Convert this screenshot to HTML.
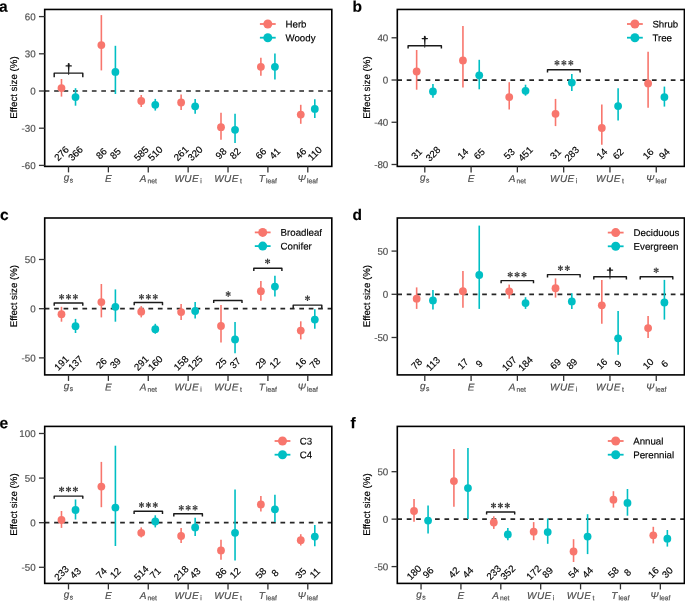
<!DOCTYPE html>
<html><head><meta charset="utf-8"><style>
html,body{margin:0;padding:0;background:#fff;overflow:hidden;}
svg{display:block;font-family:"Liberation Sans", sans-serif;will-change:transform;text-rendering:geometricPrecision;}
text{stroke-width:0.16px;}
</style></head><body>
<svg width="685" height="601" viewBox="0 0 685 601">
<rect width="685" height="601" fill="#fff"/>
<line x1="44.70" y1="91.0" x2="331.80" y2="91.0" stroke="#262626" stroke-width="1.7" stroke-dasharray="4.7 4.73"/>
<line x1="61.48" y1="79" x2="61.48" y2="96.6" stroke="#F8766D" stroke-width="1.6"/>
<circle cx="61.48" cy="88.1" r="3.9" fill="#F8766D"/>
<line x1="75.52" y1="88.2" x2="75.52" y2="105.7" stroke="#00BFC4" stroke-width="1.6"/>
<circle cx="75.52" cy="97.1" r="3.9" fill="#00BFC4"/>
<line x1="101.36" y1="15.1" x2="101.36" y2="70.4" stroke="#F8766D" stroke-width="1.6"/>
<circle cx="101.36" cy="45.1" r="3.9" fill="#F8766D"/>
<line x1="115.40" y1="45.8" x2="115.40" y2="94" stroke="#00BFC4" stroke-width="1.6"/>
<circle cx="115.40" cy="71.9" r="3.9" fill="#00BFC4"/>
<line x1="141.24" y1="95" x2="141.24" y2="107" stroke="#F8766D" stroke-width="1.6"/>
<circle cx="141.24" cy="101" r="3.9" fill="#F8766D"/>
<line x1="155.28" y1="98.9" x2="155.28" y2="110.6" stroke="#00BFC4" stroke-width="1.6"/>
<circle cx="155.28" cy="104.8" r="3.9" fill="#00BFC4"/>
<line x1="181.12" y1="94.6" x2="181.12" y2="110.1" stroke="#F8766D" stroke-width="1.6"/>
<circle cx="181.12" cy="102.5" r="3.9" fill="#F8766D"/>
<line x1="195.16" y1="98.9" x2="195.16" y2="113.8" stroke="#00BFC4" stroke-width="1.6"/>
<circle cx="195.16" cy="106.3" r="3.9" fill="#00BFC4"/>
<line x1="221.00" y1="112.7" x2="221.00" y2="139.8" stroke="#F8766D" stroke-width="1.6"/>
<circle cx="221.00" cy="127.2" r="3.9" fill="#F8766D"/>
<line x1="235.04" y1="113.8" x2="235.04" y2="143" stroke="#00BFC4" stroke-width="1.6"/>
<circle cx="235.04" cy="129.8" r="3.9" fill="#00BFC4"/>
<line x1="260.88" y1="57.7" x2="260.88" y2="75.8" stroke="#F8766D" stroke-width="1.6"/>
<circle cx="260.88" cy="66.8" r="3.9" fill="#F8766D"/>
<line x1="274.92" y1="53.4" x2="274.92" y2="79.4" stroke="#00BFC4" stroke-width="1.6"/>
<circle cx="274.92" cy="66.8" r="3.9" fill="#00BFC4"/>
<line x1="300.76" y1="104.8" x2="300.76" y2="123.8" stroke="#F8766D" stroke-width="1.6"/>
<circle cx="300.76" cy="114.6" r="3.9" fill="#F8766D"/>
<line x1="314.80" y1="99.3" x2="314.80" y2="118" stroke="#00BFC4" stroke-width="1.6"/>
<circle cx="314.80" cy="108.9" r="3.9" fill="#00BFC4"/>
<text transform="translate(61.48,153.45) rotate(-45)" x="0" y="3.39" text-anchor="middle" font-size="9.7" fill="#000" stroke="#000">276</text>
<text transform="translate(75.52,153.45) rotate(-45)" x="0" y="3.39" text-anchor="middle" font-size="9.7" fill="#000" stroke="#000">366</text>
<text transform="translate(101.36,153.45) rotate(-45)" x="0" y="3.39" text-anchor="middle" font-size="9.7" fill="#000" stroke="#000">86</text>
<text transform="translate(115.40,153.45) rotate(-45)" x="0" y="3.39" text-anchor="middle" font-size="9.7" fill="#000" stroke="#000">85</text>
<text transform="translate(141.24,153.45) rotate(-45)" x="0" y="3.39" text-anchor="middle" font-size="9.7" fill="#000" stroke="#000">585</text>
<text transform="translate(155.28,153.45) rotate(-45)" x="0" y="3.39" text-anchor="middle" font-size="9.7" fill="#000" stroke="#000">510</text>
<text transform="translate(181.12,153.45) rotate(-45)" x="0" y="3.39" text-anchor="middle" font-size="9.7" fill="#000" stroke="#000">261</text>
<text transform="translate(195.16,153.45) rotate(-45)" x="0" y="3.39" text-anchor="middle" font-size="9.7" fill="#000" stroke="#000">320</text>
<text transform="translate(221.00,153.45) rotate(-45)" x="0" y="3.39" text-anchor="middle" font-size="9.7" fill="#000" stroke="#000">98</text>
<text transform="translate(235.04,153.45) rotate(-45)" x="0" y="3.39" text-anchor="middle" font-size="9.7" fill="#000" stroke="#000">82</text>
<text transform="translate(260.88,153.45) rotate(-45)" x="0" y="3.39" text-anchor="middle" font-size="9.7" fill="#000" stroke="#000">66</text>
<text transform="translate(274.92,153.45) rotate(-45)" x="0" y="3.39" text-anchor="middle" font-size="9.7" fill="#000" stroke="#000">41</text>
<text transform="translate(300.76,153.45) rotate(-45)" x="0" y="3.39" text-anchor="middle" font-size="9.7" fill="#000" stroke="#000">46</text>
<text transform="translate(314.80,153.45) rotate(-45)" x="0" y="3.39" text-anchor="middle" font-size="9.7" fill="#000" stroke="#000">110</text>
<path d="M54.2 77.3L54.2 73.1L82.8 73.1L82.8 77.3" stroke="#1a1a1a" stroke-width="1.45" fill="none" stroke-linejoin="round"/>
<ellipse cx="68.70" cy="64.10" rx="0.95" ry="1.0" fill="#1a1a1a"/><path d="M67.75 64.20L69.65 64.20L69.05 75.00L68.35 75.00Z" fill="#1a1a1a"/><line x1="66.10" y1="65.90" x2="71.30" y2="65.90" stroke="#1a1a1a" stroke-width="1.25" stroke-linecap="round"/>
<line x1="259.90" y1="24.0" x2="275.70" y2="24.0" stroke="#F8766D" stroke-width="1.8"/>
<circle cx="267.8" cy="24.0" r="4.5" fill="#F8766D"/>
<text transform="rotate(0.05 285.50 27.45)" x="285.50" y="27.45" font-size="9.7" fill="#000" stroke="#000">Herb</text>
<line x1="259.90" y1="37.7" x2="275.70" y2="37.7" stroke="#00BFC4" stroke-width="1.8"/>
<circle cx="267.8" cy="37.7" r="4.5" fill="#00BFC4"/>
<text transform="rotate(0.05 285.50 41.15)" x="285.50" y="41.15" font-size="9.7" fill="#000" stroke="#000">Woody</text>
<rect x="44.7" y="9.45" width="287.10" height="156.95" fill="none" stroke="#000" stroke-width="1.6"/>
<line x1="38.95" y1="16.59" x2="44.70" y2="16.59" stroke="#333" stroke-width="1.3"/>
<text transform="rotate(0.05 35.70 20.17)" x="35.70" y="20.17" text-anchor="end" font-size="9.8" fill="#4D4D4D" stroke="#4D4D4D">60</text>
<line x1="38.95" y1="53.8" x2="44.70" y2="53.8" stroke="#333" stroke-width="1.3"/>
<text transform="rotate(0.05 35.70 57.38)" x="35.70" y="57.38" text-anchor="end" font-size="9.8" fill="#4D4D4D" stroke="#4D4D4D">30</text>
<line x1="38.95" y1="91.0" x2="44.70" y2="91.0" stroke="#333" stroke-width="1.3"/>
<text transform="rotate(0.05 35.70 94.58)" x="35.70" y="94.58" text-anchor="end" font-size="9.8" fill="#4D4D4D" stroke="#4D4D4D">0</text>
<line x1="38.95" y1="128.2" x2="44.70" y2="128.2" stroke="#333" stroke-width="1.3"/>
<text transform="rotate(0.05 35.70 131.78)" x="35.70" y="131.78" text-anchor="end" font-size="9.8" fill="#4D4D4D" stroke="#4D4D4D">-30</text>
<line x1="38.95" y1="165.4" x2="44.70" y2="165.4" stroke="#333" stroke-width="1.3"/>
<text transform="rotate(0.05 35.70 168.98)" x="35.70" y="168.98" text-anchor="end" font-size="9.8" fill="#4D4D4D" stroke="#4D4D4D">-60</text>
<line x1="68.50" y1="166.4" x2="68.50" y2="172.40" stroke="#333" stroke-width="1.3"/>
<text transform="rotate(0.05 68.50 180.70)" x="68.50" y="180.70" text-anchor="middle" fill="#4D4D4D" stroke="#4D4D4D" font-size="10.0"><tspan font-style="italic">g</tspan><tspan font-size="6.8" dy="1.8" dx="0.5">s</tspan></text>
<line x1="108.38" y1="166.4" x2="108.38" y2="172.40" stroke="#333" stroke-width="1.3"/>
<text transform="rotate(0.05 108.38 182.00)" x="108.38" y="182.00" text-anchor="middle" fill="#4D4D4D" stroke="#4D4D4D" font-size="10.0" font-style="italic">E</text>
<line x1="148.26" y1="166.4" x2="148.26" y2="172.40" stroke="#333" stroke-width="1.3"/>
<text transform="rotate(0.05 148.26 182.00)" x="148.26" y="182.00" text-anchor="middle" fill="#4D4D4D" stroke="#4D4D4D" font-size="10.0"><tspan font-style="italic">A</tspan><tspan font-size="6.8" dy="1.3" dx="1.1">net</tspan></text>
<line x1="188.14" y1="166.4" x2="188.14" y2="172.40" stroke="#333" stroke-width="1.3"/>
<text transform="rotate(0.05 188.14 182.00)" x="188.14" y="182.00" text-anchor="middle" fill="#4D4D4D" stroke="#4D4D4D" font-size="10.0"><tspan font-style="italic" letter-spacing="0.45">WUE</tspan><tspan font-size="6.8" dy="1.3" dx="1.1">i</tspan></text>
<line x1="228.02" y1="166.4" x2="228.02" y2="172.40" stroke="#333" stroke-width="1.3"/>
<text transform="rotate(0.05 228.02 182.00)" x="228.02" y="182.00" text-anchor="middle" fill="#4D4D4D" stroke="#4D4D4D" font-size="10.0"><tspan font-style="italic" letter-spacing="0.45">WUE</tspan><tspan font-size="6.8" dy="1.3" dx="1.1">t</tspan></text>
<line x1="267.90" y1="166.4" x2="267.90" y2="172.40" stroke="#333" stroke-width="1.3"/>
<text transform="rotate(0.05 267.90 182.00)" x="267.90" y="182.00" text-anchor="middle" fill="#4D4D4D" stroke="#4D4D4D" font-size="10.0"><tspan font-style="italic">T</tspan><tspan font-size="6.8" dy="1.3" dx="1.1">leaf</tspan></text>
<line x1="307.78" y1="166.4" x2="307.78" y2="172.40" stroke="#333" stroke-width="1.3"/>
<text transform="rotate(0.05 307.78 182.00)" x="307.78" y="182.00" text-anchor="middle" fill="#4D4D4D" stroke="#4D4D4D" font-size="10.0"><tspan font-style="italic">Ψ</tspan><tspan font-size="6.8" dy="1.3" dx="1.1">leaf</tspan></text>
<text transform="translate(17.10,87.52) rotate(-90)" x="0" y="0" text-anchor="middle" font-size="9.7" fill="#000" stroke="#000">Effect size (%)</text>
<text transform="rotate(0.05 -1.0 11.8)" x="-1.0" y="11.8" font-size="15.5" font-weight="bold" fill="#000" stroke="#000">a</text>
<line x1="397.30" y1="80.05" x2="684.40" y2="80.05" stroke="#262626" stroke-width="1.7" stroke-dasharray="4.7 4.73"/>
<line x1="416.65" y1="50" x2="416.65" y2="89.7" stroke="#F8766D" stroke-width="1.6"/>
<circle cx="416.65" cy="71.5" r="3.9" fill="#F8766D"/>
<line x1="432.95" y1="84.1" x2="432.95" y2="97.8" stroke="#00BFC4" stroke-width="1.6"/>
<circle cx="432.95" cy="91.4" r="3.9" fill="#00BFC4"/>
<line x1="462.94" y1="26.1" x2="462.94" y2="87.6" stroke="#F8766D" stroke-width="1.6"/>
<circle cx="462.94" cy="60.4" r="3.9" fill="#F8766D"/>
<line x1="479.24" y1="59.8" x2="479.24" y2="89.3" stroke="#00BFC4" stroke-width="1.6"/>
<circle cx="479.24" cy="75.3" r="3.9" fill="#00BFC4"/>
<line x1="509.23" y1="82.2" x2="509.23" y2="109.5" stroke="#F8766D" stroke-width="1.6"/>
<circle cx="509.23" cy="97.1" r="3.9" fill="#F8766D"/>
<line x1="525.53" y1="84.7" x2="525.53" y2="95.7" stroke="#00BFC4" stroke-width="1.6"/>
<circle cx="525.53" cy="90.8" r="3.9" fill="#00BFC4"/>
<line x1="555.52" y1="98.9" x2="555.52" y2="126.1" stroke="#F8766D" stroke-width="1.6"/>
<circle cx="555.52" cy="113.8" r="3.9" fill="#F8766D"/>
<line x1="571.82" y1="74.1" x2="571.82" y2="91" stroke="#00BFC4" stroke-width="1.6"/>
<circle cx="571.82" cy="82.6" r="3.9" fill="#00BFC4"/>
<line x1="601.81" y1="104.6" x2="601.81" y2="144.7" stroke="#F8766D" stroke-width="1.6"/>
<circle cx="601.81" cy="128" r="3.9" fill="#F8766D"/>
<line x1="618.11" y1="88.3" x2="618.11" y2="120.6" stroke="#00BFC4" stroke-width="1.6"/>
<circle cx="618.11" cy="106.1" r="3.9" fill="#00BFC4"/>
<line x1="648.10" y1="51.8" x2="648.10" y2="107.7" stroke="#F8766D" stroke-width="1.6"/>
<circle cx="648.10" cy="83.4" r="3.9" fill="#F8766D"/>
<line x1="664.40" y1="86.6" x2="664.40" y2="106.6" stroke="#00BFC4" stroke-width="1.6"/>
<circle cx="664.40" cy="97.1" r="3.9" fill="#00BFC4"/>
<text transform="translate(416.65,153.85) rotate(-45)" x="0" y="3.39" text-anchor="middle" font-size="9.7" fill="#000" stroke="#000">31</text>
<text transform="translate(432.95,153.85) rotate(-45)" x="0" y="3.39" text-anchor="middle" font-size="9.7" fill="#000" stroke="#000">328</text>
<text transform="translate(462.94,153.85) rotate(-45)" x="0" y="3.39" text-anchor="middle" font-size="9.7" fill="#000" stroke="#000">14</text>
<text transform="translate(479.24,153.85) rotate(-45)" x="0" y="3.39" text-anchor="middle" font-size="9.7" fill="#000" stroke="#000">65</text>
<text transform="translate(509.23,153.85) rotate(-45)" x="0" y="3.39" text-anchor="middle" font-size="9.7" fill="#000" stroke="#000">53</text>
<text transform="translate(525.53,153.85) rotate(-45)" x="0" y="3.39" text-anchor="middle" font-size="9.7" fill="#000" stroke="#000">451</text>
<text transform="translate(555.52,153.85) rotate(-45)" x="0" y="3.39" text-anchor="middle" font-size="9.7" fill="#000" stroke="#000">31</text>
<text transform="translate(571.82,153.85) rotate(-45)" x="0" y="3.39" text-anchor="middle" font-size="9.7" fill="#000" stroke="#000">283</text>
<text transform="translate(601.81,153.85) rotate(-45)" x="0" y="3.39" text-anchor="middle" font-size="9.7" fill="#000" stroke="#000">14</text>
<text transform="translate(618.11,153.85) rotate(-45)" x="0" y="3.39" text-anchor="middle" font-size="9.7" fill="#000" stroke="#000">62</text>
<text transform="translate(648.10,153.85) rotate(-45)" x="0" y="3.39" text-anchor="middle" font-size="9.7" fill="#000" stroke="#000">16</text>
<text transform="translate(664.40,153.85) rotate(-45)" x="0" y="3.39" text-anchor="middle" font-size="9.7" fill="#000" stroke="#000">94</text>
<path d="M408.1 48.5L408.1 45.7L441.4 45.7L441.4 48.5" stroke="#1a1a1a" stroke-width="1.45" fill="none" stroke-linejoin="round"/>
<ellipse cx="424.80" cy="36.80" rx="0.95" ry="1.0" fill="#1a1a1a"/><path d="M423.85 36.90L425.75 36.90L425.15 47.70L424.45 47.70Z" fill="#1a1a1a"/><line x1="422.20" y1="38.60" x2="427.40" y2="38.60" stroke="#1a1a1a" stroke-width="1.25" stroke-linecap="round"/>
<path d="M547.5 72.4L547.5 69.8L580.1 69.8L580.1 72.4" stroke="#1a1a1a" stroke-width="1.45" fill="none" stroke-linejoin="round"/>
<path d="M557.20 62.80L557.72 60.62A0.72 0.72 0 0 0 556.28 60.62L556.80 62.80ZM557.10 62.97L559.25 62.33A0.72 0.72 0 0 0 558.53 61.09L556.90 62.63ZM557.10 62.63L555.47 61.09A0.72 0.72 0 0 0 554.75 62.33L556.90 62.97ZM556.90 62.63L554.75 63.27A0.72 0.72 0 0 0 555.47 64.51L557.10 62.97ZM556.80 62.80L556.28 64.98A0.72 0.72 0 0 0 557.72 64.98L557.20 62.80ZM556.90 62.97L558.53 64.51A0.72 0.72 0 0 0 559.25 63.27L557.10 62.63Z" fill="#383838"/><path d="M564.10 62.80L564.62 60.62A0.72 0.72 0 0 0 563.18 60.62L563.70 62.80ZM564.00 62.97L566.15 62.33A0.72 0.72 0 0 0 565.43 61.09L563.80 62.63ZM564.00 62.63L562.37 61.09A0.72 0.72 0 0 0 561.65 62.33L563.80 62.97ZM563.80 62.63L561.65 63.27A0.72 0.72 0 0 0 562.37 64.51L564.00 62.97ZM563.70 62.80L563.18 64.98A0.72 0.72 0 0 0 564.62 64.98L564.10 62.80ZM563.80 62.97L565.43 64.51A0.72 0.72 0 0 0 566.15 63.27L564.00 62.63Z" fill="#383838"/><path d="M571.00 62.80L571.52 60.62A0.72 0.72 0 0 0 570.08 60.62L570.60 62.80ZM570.90 62.97L573.05 62.33A0.72 0.72 0 0 0 572.33 61.09L570.70 62.63ZM570.90 62.63L569.27 61.09A0.72 0.72 0 0 0 568.55 62.33L570.70 62.97ZM570.70 62.63L568.55 63.27A0.72 0.72 0 0 0 569.27 64.51L570.90 62.97ZM570.60 62.80L570.08 64.98A0.72 0.72 0 0 0 571.52 64.98L571.00 62.80ZM570.70 62.97L572.33 64.51A0.72 0.72 0 0 0 573.05 63.27L570.90 62.63Z" fill="#383838"/>
<line x1="627.00" y1="24.0" x2="642.80" y2="24.0" stroke="#F8766D" stroke-width="1.8"/>
<circle cx="634.9" cy="24.0" r="4.5" fill="#F8766D"/>
<text transform="rotate(0.05 652.40 27.45)" x="652.40" y="27.45" font-size="9.7" fill="#000" stroke="#000">Shrub</text>
<line x1="627.00" y1="37.7" x2="642.80" y2="37.7" stroke="#00BFC4" stroke-width="1.8"/>
<circle cx="634.9" cy="37.7" r="4.5" fill="#00BFC4"/>
<text transform="rotate(0.05 652.40 41.15)" x="652.40" y="41.15" font-size="9.7" fill="#000" stroke="#000">Tree</text>
<rect x="397.3" y="9.45" width="287.10" height="156.95" fill="none" stroke="#000" stroke-width="1.6"/>
<line x1="391.55" y1="37.79" x2="397.30" y2="37.79" stroke="#333" stroke-width="1.3"/>
<text transform="rotate(0.05 388.30 41.37)" x="388.30" y="41.37" text-anchor="end" font-size="9.8" fill="#4D4D4D" stroke="#4D4D4D">40</text>
<line x1="391.55" y1="80.02" x2="397.30" y2="80.02" stroke="#333" stroke-width="1.3"/>
<text transform="rotate(0.05 388.30 83.60)" x="388.30" y="83.60" text-anchor="end" font-size="9.8" fill="#4D4D4D" stroke="#4D4D4D">0</text>
<line x1="391.55" y1="122.26" x2="397.30" y2="122.26" stroke="#333" stroke-width="1.3"/>
<text transform="rotate(0.05 388.30 125.84)" x="388.30" y="125.84" text-anchor="end" font-size="9.8" fill="#4D4D4D" stroke="#4D4D4D">-40</text>
<line x1="391.55" y1="164.49" x2="397.30" y2="164.49" stroke="#333" stroke-width="1.3"/>
<text transform="rotate(0.05 388.30 168.07)" x="388.30" y="168.07" text-anchor="end" font-size="9.8" fill="#4D4D4D" stroke="#4D4D4D">-80</text>
<line x1="424.80" y1="166.4" x2="424.80" y2="172.40" stroke="#333" stroke-width="1.3"/>
<text transform="rotate(0.05 424.80 180.70)" x="424.80" y="180.70" text-anchor="middle" fill="#4D4D4D" stroke="#4D4D4D" font-size="10.0"><tspan font-style="italic">g</tspan><tspan font-size="6.8" dy="1.8" dx="0.5">s</tspan></text>
<line x1="471.09" y1="166.4" x2="471.09" y2="172.40" stroke="#333" stroke-width="1.3"/>
<text transform="rotate(0.05 471.09 182.00)" x="471.09" y="182.00" text-anchor="middle" fill="#4D4D4D" stroke="#4D4D4D" font-size="10.0" font-style="italic">E</text>
<line x1="517.38" y1="166.4" x2="517.38" y2="172.40" stroke="#333" stroke-width="1.3"/>
<text transform="rotate(0.05 517.38 182.00)" x="517.38" y="182.00" text-anchor="middle" fill="#4D4D4D" stroke="#4D4D4D" font-size="10.0"><tspan font-style="italic">A</tspan><tspan font-size="6.8" dy="1.3" dx="1.1">net</tspan></text>
<line x1="563.67" y1="166.4" x2="563.67" y2="172.40" stroke="#333" stroke-width="1.3"/>
<text transform="rotate(0.05 563.67 182.00)" x="563.67" y="182.00" text-anchor="middle" fill="#4D4D4D" stroke="#4D4D4D" font-size="10.0"><tspan font-style="italic" letter-spacing="0.45">WUE</tspan><tspan font-size="6.8" dy="1.3" dx="1.1">i</tspan></text>
<line x1="609.96" y1="166.4" x2="609.96" y2="172.40" stroke="#333" stroke-width="1.3"/>
<text transform="rotate(0.05 609.96 182.00)" x="609.96" y="182.00" text-anchor="middle" fill="#4D4D4D" stroke="#4D4D4D" font-size="10.0"><tspan font-style="italic" letter-spacing="0.45">WUE</tspan><tspan font-size="6.8" dy="1.3" dx="1.1">t</tspan></text>
<line x1="656.25" y1="166.4" x2="656.25" y2="172.40" stroke="#333" stroke-width="1.3"/>
<text transform="rotate(0.05 656.25 182.00)" x="656.25" y="182.00" text-anchor="middle" fill="#4D4D4D" stroke="#4D4D4D" font-size="10.0"><tspan font-style="italic">Ψ</tspan><tspan font-size="6.8" dy="1.3" dx="1.1">leaf</tspan></text>
<text transform="translate(369.70,87.52) rotate(-90)" x="0" y="0" text-anchor="middle" font-size="9.7" fill="#000" stroke="#000">Effect size (%)</text>
<text transform="rotate(0.05 352.5 11.8)" x="352.5" y="11.8" font-size="15.5" font-weight="bold" fill="#000" stroke="#000">b</text>
<line x1="44.70" y1="308.69" x2="331.80" y2="308.69" stroke="#262626" stroke-width="1.7" stroke-dasharray="4.7 4.73"/>
<line x1="61.48" y1="306.8" x2="61.48" y2="321.7" stroke="#F8766D" stroke-width="1.6"/>
<circle cx="61.48" cy="314.2" r="3.9" fill="#F8766D"/>
<line x1="75.52" y1="318.9" x2="75.52" y2="333" stroke="#00BFC4" stroke-width="1.6"/>
<circle cx="75.52" cy="326.2" r="3.9" fill="#00BFC4"/>
<line x1="101.36" y1="284" x2="101.36" y2="317.4" stroke="#F8766D" stroke-width="1.6"/>
<circle cx="101.36" cy="302.1" r="3.9" fill="#F8766D"/>
<line x1="115.40" y1="289.4" x2="115.40" y2="321.7" stroke="#00BFC4" stroke-width="1.6"/>
<circle cx="115.40" cy="306.8" r="3.9" fill="#00BFC4"/>
<line x1="141.24" y1="306.1" x2="141.24" y2="317.4" stroke="#F8766D" stroke-width="1.6"/>
<circle cx="141.24" cy="311.7" r="3.9" fill="#F8766D"/>
<line x1="155.28" y1="323.8" x2="155.28" y2="333.8" stroke="#00BFC4" stroke-width="1.6"/>
<circle cx="155.28" cy="329.2" r="3.9" fill="#00BFC4"/>
<line x1="181.12" y1="304" x2="181.12" y2="320" stroke="#F8766D" stroke-width="1.6"/>
<circle cx="181.12" cy="312.1" r="3.9" fill="#F8766D"/>
<line x1="195.16" y1="302.1" x2="195.16" y2="318.5" stroke="#00BFC4" stroke-width="1.6"/>
<circle cx="195.16" cy="311" r="3.9" fill="#00BFC4"/>
<line x1="221.00" y1="305.1" x2="221.00" y2="342.6" stroke="#F8766D" stroke-width="1.6"/>
<circle cx="221.00" cy="326" r="3.9" fill="#F8766D"/>
<line x1="235.04" y1="322.1" x2="235.04" y2="353.2" stroke="#00BFC4" stroke-width="1.6"/>
<circle cx="235.04" cy="339.4" r="3.9" fill="#00BFC4"/>
<line x1="260.88" y1="281" x2="260.88" y2="300.8" stroke="#F8766D" stroke-width="1.6"/>
<circle cx="260.88" cy="291.2" r="3.9" fill="#F8766D"/>
<line x1="274.92" y1="275.7" x2="274.92" y2="296.5" stroke="#00BFC4" stroke-width="1.6"/>
<circle cx="274.92" cy="286.6" r="3.9" fill="#00BFC4"/>
<line x1="300.76" y1="321.3" x2="300.76" y2="339.4" stroke="#F8766D" stroke-width="1.6"/>
<circle cx="300.76" cy="330.6" r="3.9" fill="#F8766D"/>
<line x1="314.80" y1="309.3" x2="314.80" y2="328.7" stroke="#00BFC4" stroke-width="1.6"/>
<circle cx="314.80" cy="319.6" r="3.9" fill="#00BFC4"/>
<text transform="translate(61.48,363.05) rotate(-45)" x="0" y="3.39" text-anchor="middle" font-size="9.7" fill="#000" stroke="#000">191</text>
<text transform="translate(75.52,363.05) rotate(-45)" x="0" y="3.39" text-anchor="middle" font-size="9.7" fill="#000" stroke="#000">137</text>
<text transform="translate(101.36,363.05) rotate(-45)" x="0" y="3.39" text-anchor="middle" font-size="9.7" fill="#000" stroke="#000">26</text>
<text transform="translate(115.40,363.05) rotate(-45)" x="0" y="3.39" text-anchor="middle" font-size="9.7" fill="#000" stroke="#000">39</text>
<text transform="translate(141.24,363.05) rotate(-45)" x="0" y="3.39" text-anchor="middle" font-size="9.7" fill="#000" stroke="#000">291</text>
<text transform="translate(155.28,363.05) rotate(-45)" x="0" y="3.39" text-anchor="middle" font-size="9.7" fill="#000" stroke="#000">160</text>
<text transform="translate(181.12,363.05) rotate(-45)" x="0" y="3.39" text-anchor="middle" font-size="9.7" fill="#000" stroke="#000">158</text>
<text transform="translate(195.16,363.05) rotate(-45)" x="0" y="3.39" text-anchor="middle" font-size="9.7" fill="#000" stroke="#000">125</text>
<text transform="translate(221.00,363.05) rotate(-45)" x="0" y="3.39" text-anchor="middle" font-size="9.7" fill="#000" stroke="#000">25</text>
<text transform="translate(235.04,363.05) rotate(-45)" x="0" y="3.39" text-anchor="middle" font-size="9.7" fill="#000" stroke="#000">37</text>
<text transform="translate(260.88,363.05) rotate(-45)" x="0" y="3.39" text-anchor="middle" font-size="9.7" fill="#000" stroke="#000">29</text>
<text transform="translate(274.92,363.05) rotate(-45)" x="0" y="3.39" text-anchor="middle" font-size="9.7" fill="#000" stroke="#000">12</text>
<text transform="translate(300.76,363.05) rotate(-45)" x="0" y="3.39" text-anchor="middle" font-size="9.7" fill="#000" stroke="#000">16</text>
<text transform="translate(314.80,363.05) rotate(-45)" x="0" y="3.39" text-anchor="middle" font-size="9.7" fill="#000" stroke="#000">78</text>
<path d="M54.2 305.7L54.2 302.9L82.8 302.9L82.8 305.7" stroke="#1a1a1a" stroke-width="1.45" fill="none" stroke-linejoin="round"/>
<path d="M61.80 296.80L62.32 294.62A0.72 0.72 0 0 0 60.88 294.62L61.40 296.80ZM61.70 296.97L63.85 296.33A0.72 0.72 0 0 0 63.13 295.09L61.50 296.63ZM61.70 296.63L60.07 295.09A0.72 0.72 0 0 0 59.35 296.33L61.50 296.97ZM61.50 296.63L59.35 297.27A0.72 0.72 0 0 0 60.07 298.51L61.70 296.97ZM61.40 296.80L60.88 298.98A0.72 0.72 0 0 0 62.32 298.98L61.80 296.80ZM61.50 296.97L63.13 298.51A0.72 0.72 0 0 0 63.85 297.27L61.70 296.63Z" fill="#383838"/><path d="M68.70 296.80L69.22 294.62A0.72 0.72 0 0 0 67.78 294.62L68.30 296.80ZM68.60 296.97L70.75 296.33A0.72 0.72 0 0 0 70.03 295.09L68.40 296.63ZM68.60 296.63L66.97 295.09A0.72 0.72 0 0 0 66.25 296.33L68.40 296.97ZM68.40 296.63L66.25 297.27A0.72 0.72 0 0 0 66.97 298.51L68.60 296.97ZM68.30 296.80L67.78 298.98A0.72 0.72 0 0 0 69.22 298.98L68.70 296.80ZM68.40 296.97L70.03 298.51A0.72 0.72 0 0 0 70.75 297.27L68.60 296.63Z" fill="#383838"/><path d="M75.60 296.80L76.12 294.62A0.72 0.72 0 0 0 74.68 294.62L75.20 296.80ZM75.50 296.97L77.65 296.33A0.72 0.72 0 0 0 76.93 295.09L75.30 296.63ZM75.50 296.63L73.87 295.09A0.72 0.72 0 0 0 73.15 296.33L75.30 296.97ZM75.30 296.63L73.15 297.27A0.72 0.72 0 0 0 73.87 298.51L75.50 296.97ZM75.20 296.80L74.68 298.98A0.72 0.72 0 0 0 76.12 298.98L75.60 296.80ZM75.30 296.97L76.93 298.51A0.72 0.72 0 0 0 77.65 297.27L75.50 296.63Z" fill="#383838"/>
<path d="M134.2 305.3L134.2 302.5L162.5 302.5L162.5 305.3" stroke="#1a1a1a" stroke-width="1.45" fill="none" stroke-linejoin="round"/>
<path d="M141.70 296.80L142.22 294.62A0.72 0.72 0 0 0 140.78 294.62L141.30 296.80ZM141.60 296.97L143.75 296.33A0.72 0.72 0 0 0 143.03 295.09L141.40 296.63ZM141.60 296.63L139.97 295.09A0.72 0.72 0 0 0 139.25 296.33L141.40 296.97ZM141.40 296.63L139.25 297.27A0.72 0.72 0 0 0 139.97 298.51L141.60 296.97ZM141.30 296.80L140.78 298.98A0.72 0.72 0 0 0 142.22 298.98L141.70 296.80ZM141.40 296.97L143.03 298.51A0.72 0.72 0 0 0 143.75 297.27L141.60 296.63Z" fill="#383838"/><path d="M148.60 296.80L149.12 294.62A0.72 0.72 0 0 0 147.68 294.62L148.20 296.80ZM148.50 296.97L150.65 296.33A0.72 0.72 0 0 0 149.93 295.09L148.30 296.63ZM148.50 296.63L146.87 295.09A0.72 0.72 0 0 0 146.15 296.33L148.30 296.97ZM148.30 296.63L146.15 297.27A0.72 0.72 0 0 0 146.87 298.51L148.50 296.97ZM148.20 296.80L147.68 298.98A0.72 0.72 0 0 0 149.12 298.98L148.60 296.80ZM148.30 296.97L149.93 298.51A0.72 0.72 0 0 0 150.65 297.27L148.50 296.63Z" fill="#383838"/><path d="M155.50 296.80L156.02 294.62A0.72 0.72 0 0 0 154.58 294.62L155.10 296.80ZM155.40 296.97L157.55 296.33A0.72 0.72 0 0 0 156.83 295.09L155.20 296.63ZM155.40 296.63L153.77 295.09A0.72 0.72 0 0 0 153.05 296.33L155.20 296.97ZM155.20 296.63L153.05 297.27A0.72 0.72 0 0 0 153.77 298.51L155.40 296.97ZM155.10 296.80L154.58 298.98A0.72 0.72 0 0 0 156.02 298.98L155.50 296.80ZM155.20 296.97L156.83 298.51A0.72 0.72 0 0 0 157.55 297.27L155.40 296.63Z" fill="#383838"/>
<path d="M213.7 303.1L213.7 300.4L242.0 300.4L242.0 303.1" stroke="#1a1a1a" stroke-width="1.45" fill="none" stroke-linejoin="round"/>
<path d="M228.40 294.00L228.92 291.82A0.72 0.72 0 0 0 227.48 291.82L228.00 294.00ZM228.30 294.17L230.45 293.53A0.72 0.72 0 0 0 229.73 292.29L228.10 293.83ZM228.30 293.83L226.67 292.29A0.72 0.72 0 0 0 225.95 293.53L228.10 294.17ZM228.10 293.83L225.95 294.47A0.72 0.72 0 0 0 226.67 295.71L228.30 294.17ZM228.00 294.00L227.48 296.18A0.72 0.72 0 0 0 228.92 296.18L228.40 294.00ZM228.10 294.17L229.73 295.71A0.72 0.72 0 0 0 230.45 294.47L228.30 293.83Z" fill="#383838"/>
<path d="M253.8 271.0L253.8 268.2L281.9 268.2L281.9 271.0" stroke="#1a1a1a" stroke-width="1.45" fill="none" stroke-linejoin="round"/>
<path d="M267.80 261.40L268.32 259.22A0.72 0.72 0 0 0 266.88 259.22L267.40 261.40ZM267.70 261.57L269.85 260.93A0.72 0.72 0 0 0 269.13 259.69L267.50 261.23ZM267.70 261.23L266.07 259.69A0.72 0.72 0 0 0 265.35 260.93L267.50 261.57ZM267.50 261.23L265.35 261.87A0.72 0.72 0 0 0 266.07 263.11L267.70 261.57ZM267.40 261.40L266.88 263.58A0.72 0.72 0 0 0 268.32 263.58L267.80 261.40ZM267.50 261.57L269.13 263.11A0.72 0.72 0 0 0 269.85 261.87L267.70 261.23Z" fill="#383838"/>
<path d="M293.2 308.1L293.2 305.1L321.8 305.1L321.8 308.1" stroke="#1a1a1a" stroke-width="1.45" fill="none" stroke-linejoin="round"/>
<path d="M307.70 298.20L308.22 296.02A0.72 0.72 0 0 0 306.78 296.02L307.30 298.20ZM307.60 298.37L309.75 297.73A0.72 0.72 0 0 0 309.03 296.49L307.40 298.03ZM307.60 298.03L305.97 296.49A0.72 0.72 0 0 0 305.25 297.73L307.40 298.37ZM307.40 298.03L305.25 298.67A0.72 0.72 0 0 0 305.97 299.91L307.60 298.37ZM307.30 298.20L306.78 300.38A0.72 0.72 0 0 0 308.22 300.38L307.70 298.20ZM307.40 298.37L309.03 299.91A0.72 0.72 0 0 0 309.75 298.67L307.60 298.03Z" fill="#383838"/>
<line x1="254.80" y1="232.4" x2="270.60" y2="232.4" stroke="#F8766D" stroke-width="1.8"/>
<circle cx="262.7" cy="232.4" r="4.5" fill="#F8766D"/>
<text transform="rotate(0.05 280.60 235.85)" x="280.60" y="235.85" font-size="9.7" fill="#000" stroke="#000">Broadleaf</text>
<line x1="254.80" y1="246.1" x2="270.60" y2="246.1" stroke="#00BFC4" stroke-width="1.8"/>
<circle cx="262.7" cy="246.1" r="4.5" fill="#00BFC4"/>
<text transform="rotate(0.05 280.60 249.55)" x="280.60" y="249.55" font-size="9.7" fill="#000" stroke="#000">Conifer</text>
<rect x="44.7" y="218.0" width="287.10" height="156.90" fill="none" stroke="#000" stroke-width="1.6"/>
<line x1="38.95" y1="259.49" x2="44.70" y2="259.49" stroke="#333" stroke-width="1.3"/>
<text transform="rotate(0.05 35.70 263.07)" x="35.70" y="263.07" text-anchor="end" font-size="9.8" fill="#4D4D4D" stroke="#4D4D4D">50</text>
<line x1="38.95" y1="308.69" x2="44.70" y2="308.69" stroke="#333" stroke-width="1.3"/>
<text transform="rotate(0.05 35.70 312.27)" x="35.70" y="312.27" text-anchor="end" font-size="9.8" fill="#4D4D4D" stroke="#4D4D4D">0</text>
<line x1="38.95" y1="357.89" x2="44.70" y2="357.89" stroke="#333" stroke-width="1.3"/>
<text transform="rotate(0.05 35.70 361.47)" x="35.70" y="361.47" text-anchor="end" font-size="9.8" fill="#4D4D4D" stroke="#4D4D4D">-50</text>
<line x1="68.50" y1="374.9" x2="68.50" y2="380.90" stroke="#333" stroke-width="1.3"/>
<text transform="rotate(0.05 68.50 389.20)" x="68.50" y="389.20" text-anchor="middle" fill="#4D4D4D" stroke="#4D4D4D" font-size="10.0"><tspan font-style="italic">g</tspan><tspan font-size="6.8" dy="1.8" dx="0.5">s</tspan></text>
<line x1="108.38" y1="374.9" x2="108.38" y2="380.90" stroke="#333" stroke-width="1.3"/>
<text transform="rotate(0.05 108.38 390.50)" x="108.38" y="390.50" text-anchor="middle" fill="#4D4D4D" stroke="#4D4D4D" font-size="10.0" font-style="italic">E</text>
<line x1="148.26" y1="374.9" x2="148.26" y2="380.90" stroke="#333" stroke-width="1.3"/>
<text transform="rotate(0.05 148.26 390.50)" x="148.26" y="390.50" text-anchor="middle" fill="#4D4D4D" stroke="#4D4D4D" font-size="10.0"><tspan font-style="italic">A</tspan><tspan font-size="6.8" dy="1.3" dx="1.1">net</tspan></text>
<line x1="188.14" y1="374.9" x2="188.14" y2="380.90" stroke="#333" stroke-width="1.3"/>
<text transform="rotate(0.05 188.14 390.50)" x="188.14" y="390.50" text-anchor="middle" fill="#4D4D4D" stroke="#4D4D4D" font-size="10.0"><tspan font-style="italic" letter-spacing="0.45">WUE</tspan><tspan font-size="6.8" dy="1.3" dx="1.1">i</tspan></text>
<line x1="228.02" y1="374.9" x2="228.02" y2="380.90" stroke="#333" stroke-width="1.3"/>
<text transform="rotate(0.05 228.02 390.50)" x="228.02" y="390.50" text-anchor="middle" fill="#4D4D4D" stroke="#4D4D4D" font-size="10.0"><tspan font-style="italic" letter-spacing="0.45">WUE</tspan><tspan font-size="6.8" dy="1.3" dx="1.1">t</tspan></text>
<line x1="267.90" y1="374.9" x2="267.90" y2="380.90" stroke="#333" stroke-width="1.3"/>
<text transform="rotate(0.05 267.90 390.50)" x="267.90" y="390.50" text-anchor="middle" fill="#4D4D4D" stroke="#4D4D4D" font-size="10.0"><tspan font-style="italic">T</tspan><tspan font-size="6.8" dy="1.3" dx="1.1">leaf</tspan></text>
<line x1="307.78" y1="374.9" x2="307.78" y2="380.90" stroke="#333" stroke-width="1.3"/>
<text transform="rotate(0.05 307.78 390.50)" x="307.78" y="390.50" text-anchor="middle" fill="#4D4D4D" stroke="#4D4D4D" font-size="10.0"><tspan font-style="italic">Ψ</tspan><tspan font-size="6.8" dy="1.3" dx="1.1">leaf</tspan></text>
<text transform="translate(17.10,296.05) rotate(-90)" x="0" y="0" text-anchor="middle" font-size="9.7" fill="#000" stroke="#000">Effect size (%)</text>
<text transform="rotate(0.05 0.1 219.9)" x="0.1" y="219.9" font-size="15.5" font-weight="bold" fill="#000" stroke="#000">c</text>
<line x1="397.30" y1="294.29" x2="684.40" y2="294.29" stroke="#262626" stroke-width="1.7" stroke-dasharray="4.7 4.73"/>
<line x1="416.65" y1="287.4" x2="416.65" y2="308.9" stroke="#F8766D" stroke-width="1.6"/>
<circle cx="416.65" cy="298.7" r="3.9" fill="#F8766D"/>
<line x1="432.95" y1="290" x2="432.95" y2="309.5" stroke="#00BFC4" stroke-width="1.6"/>
<circle cx="432.95" cy="300.4" r="3.9" fill="#00BFC4"/>
<line x1="462.94" y1="271" x2="462.94" y2="307.8" stroke="#F8766D" stroke-width="1.6"/>
<circle cx="462.94" cy="291.2" r="3.9" fill="#F8766D"/>
<line x1="479.24" y1="225.6" x2="479.24" y2="308.9" stroke="#00BFC4" stroke-width="1.6"/>
<circle cx="479.24" cy="275" r="3.9" fill="#00BFC4"/>
<line x1="509.23" y1="284.6" x2="509.23" y2="298.7" stroke="#F8766D" stroke-width="1.6"/>
<circle cx="509.23" cy="291.3" r="3.9" fill="#F8766D"/>
<line x1="525.53" y1="297.2" x2="525.53" y2="308.9" stroke="#00BFC4" stroke-width="1.6"/>
<circle cx="525.53" cy="303.1" r="3.9" fill="#00BFC4"/>
<line x1="555.52" y1="278.4" x2="555.52" y2="297.6" stroke="#F8766D" stroke-width="1.6"/>
<circle cx="555.52" cy="288.2" r="3.9" fill="#F8766D"/>
<line x1="571.82" y1="293.3" x2="571.82" y2="308.9" stroke="#00BFC4" stroke-width="1.6"/>
<circle cx="571.82" cy="301.4" r="3.9" fill="#00BFC4"/>
<line x1="601.81" y1="279.9" x2="601.81" y2="323.8" stroke="#F8766D" stroke-width="1.6"/>
<circle cx="601.81" cy="305.3" r="3.9" fill="#F8766D"/>
<line x1="618.11" y1="311" x2="618.11" y2="354.7" stroke="#00BFC4" stroke-width="1.6"/>
<circle cx="618.11" cy="338.3" r="3.9" fill="#00BFC4"/>
<line x1="648.10" y1="315.9" x2="648.10" y2="338.1" stroke="#F8766D" stroke-width="1.6"/>
<circle cx="648.10" cy="328.1" r="3.9" fill="#F8766D"/>
<line x1="664.40" y1="279.9" x2="664.40" y2="319.6" stroke="#00BFC4" stroke-width="1.6"/>
<circle cx="664.40" cy="302.5" r="3.9" fill="#00BFC4"/>
<text transform="translate(416.65,363.75) rotate(-45)" x="0" y="3.39" text-anchor="middle" font-size="9.7" fill="#000" stroke="#000">78</text>
<text transform="translate(432.95,363.75) rotate(-45)" x="0" y="3.39" text-anchor="middle" font-size="9.7" fill="#000" stroke="#000">113</text>
<text transform="translate(462.94,363.75) rotate(-45)" x="0" y="3.39" text-anchor="middle" font-size="9.7" fill="#000" stroke="#000">17</text>
<text transform="translate(479.24,363.75) rotate(-45)" x="0" y="3.39" text-anchor="middle" font-size="9.7" fill="#000" stroke="#000">9</text>
<text transform="translate(509.23,363.75) rotate(-45)" x="0" y="3.39" text-anchor="middle" font-size="9.7" fill="#000" stroke="#000">107</text>
<text transform="translate(525.53,363.75) rotate(-45)" x="0" y="3.39" text-anchor="middle" font-size="9.7" fill="#000" stroke="#000">184</text>
<text transform="translate(555.52,363.75) rotate(-45)" x="0" y="3.39" text-anchor="middle" font-size="9.7" fill="#000" stroke="#000">69</text>
<text transform="translate(571.82,363.75) rotate(-45)" x="0" y="3.39" text-anchor="middle" font-size="9.7" fill="#000" stroke="#000">89</text>
<text transform="translate(601.81,363.75) rotate(-45)" x="0" y="3.39" text-anchor="middle" font-size="9.7" fill="#000" stroke="#000">16</text>
<text transform="translate(618.11,363.75) rotate(-45)" x="0" y="3.39" text-anchor="middle" font-size="9.7" fill="#000" stroke="#000">9</text>
<text transform="translate(648.10,363.75) rotate(-45)" x="0" y="3.39" text-anchor="middle" font-size="9.7" fill="#000" stroke="#000">10</text>
<text transform="translate(664.40,363.75) rotate(-45)" x="0" y="3.39" text-anchor="middle" font-size="9.7" fill="#000" stroke="#000">6</text>
<path d="M501.1 283.3L501.1 280.6L533.5 280.6L533.5 283.3" stroke="#1a1a1a" stroke-width="1.45" fill="none" stroke-linejoin="round"/>
<path d="M510.40 274.60L510.92 272.42A0.72 0.72 0 0 0 509.48 272.42L510.00 274.60ZM510.30 274.77L512.45 274.13A0.72 0.72 0 0 0 511.73 272.89L510.10 274.43ZM510.30 274.43L508.67 272.89A0.72 0.72 0 0 0 507.95 274.13L510.10 274.77ZM510.10 274.43L507.95 275.07A0.72 0.72 0 0 0 508.67 276.31L510.30 274.77ZM510.00 274.60L509.48 276.78A0.72 0.72 0 0 0 510.92 276.78L510.40 274.60ZM510.10 274.77L511.73 276.31A0.72 0.72 0 0 0 512.45 275.07L510.30 274.43Z" fill="#383838"/><path d="M517.30 274.60L517.82 272.42A0.72 0.72 0 0 0 516.38 272.42L516.90 274.60ZM517.20 274.77L519.35 274.13A0.72 0.72 0 0 0 518.63 272.89L517.00 274.43ZM517.20 274.43L515.57 272.89A0.72 0.72 0 0 0 514.85 274.13L517.00 274.77ZM517.00 274.43L514.85 275.07A0.72 0.72 0 0 0 515.57 276.31L517.20 274.77ZM516.90 274.60L516.38 276.78A0.72 0.72 0 0 0 517.82 276.78L517.30 274.60ZM517.00 274.77L518.63 276.31A0.72 0.72 0 0 0 519.35 275.07L517.20 274.43Z" fill="#383838"/><path d="M524.20 274.60L524.72 272.42A0.72 0.72 0 0 0 523.28 272.42L523.80 274.60ZM524.10 274.77L526.25 274.13A0.72 0.72 0 0 0 525.53 272.89L523.90 274.43ZM524.10 274.43L522.47 272.89A0.72 0.72 0 0 0 521.75 274.13L523.90 274.77ZM523.90 274.43L521.75 275.07A0.72 0.72 0 0 0 522.47 276.31L524.10 274.77ZM523.80 274.60L523.28 276.78A0.72 0.72 0 0 0 524.72 276.78L524.20 274.60ZM523.90 274.77L525.53 276.31A0.72 0.72 0 0 0 526.25 275.07L524.10 274.43Z" fill="#383838"/>
<path d="M547.5 277.4L547.5 274.6L580.1 274.6L580.1 277.4" stroke="#1a1a1a" stroke-width="1.45" fill="none" stroke-linejoin="round"/>
<path d="M560.65 268.20L561.17 266.02A0.72 0.72 0 0 0 559.73 266.02L560.25 268.20ZM560.55 268.37L562.70 267.73A0.72 0.72 0 0 0 561.98 266.49L560.35 268.03ZM560.55 268.03L558.92 266.49A0.72 0.72 0 0 0 558.20 267.73L560.35 268.37ZM560.35 268.03L558.20 268.67A0.72 0.72 0 0 0 558.92 269.91L560.55 268.37ZM560.25 268.20L559.73 270.38A0.72 0.72 0 0 0 561.17 270.38L560.65 268.20ZM560.35 268.37L561.98 269.91A0.72 0.72 0 0 0 562.70 268.67L560.55 268.03Z" fill="#383838"/><path d="M567.55 268.20L568.07 266.02A0.72 0.72 0 0 0 566.63 266.02L567.15 268.20ZM567.45 268.37L569.60 267.73A0.72 0.72 0 0 0 568.88 266.49L567.25 268.03ZM567.45 268.03L565.82 266.49A0.72 0.72 0 0 0 565.10 267.73L567.25 268.37ZM567.25 268.03L565.10 268.67A0.72 0.72 0 0 0 565.82 269.91L567.45 268.37ZM567.15 268.20L566.63 270.38A0.72 0.72 0 0 0 568.07 270.38L567.55 268.20ZM567.25 268.37L568.88 269.91A0.72 0.72 0 0 0 569.60 268.67L567.45 268.03Z" fill="#383838"/>
<path d="M593.8 279.5L593.8 276.7L626.4 276.7L626.4 279.5" stroke="#1a1a1a" stroke-width="1.45" fill="none" stroke-linejoin="round"/>
<ellipse cx="610.00" cy="268.30" rx="0.95" ry="1.0" fill="#1a1a1a"/><path d="M609.05 268.40L610.95 268.40L610.35 279.20L609.65 279.20Z" fill="#1a1a1a"/><line x1="607.40" y1="270.10" x2="612.60" y2="270.10" stroke="#1a1a1a" stroke-width="1.25" stroke-linecap="round"/>
<path d="M640.2 279.5L640.2 276.7L672.8 276.7L672.8 279.5" stroke="#1a1a1a" stroke-width="1.45" fill="none" stroke-linejoin="round"/>
<path d="M656.40 270.30L656.92 268.12A0.72 0.72 0 0 0 655.48 268.12L656.00 270.30ZM656.30 270.47L658.45 269.83A0.72 0.72 0 0 0 657.73 268.59L656.10 270.13ZM656.30 270.13L654.67 268.59A0.72 0.72 0 0 0 653.95 269.83L656.10 270.47ZM656.10 270.13L653.95 270.77A0.72 0.72 0 0 0 654.67 272.01L656.30 270.47ZM656.00 270.30L655.48 272.48A0.72 0.72 0 0 0 656.92 272.48L656.40 270.30ZM656.10 270.47L657.73 272.01A0.72 0.72 0 0 0 658.45 270.77L656.30 270.13Z" fill="#383838"/>
<line x1="607.80" y1="232.6" x2="623.60" y2="232.6" stroke="#F8766D" stroke-width="1.8"/>
<circle cx="615.7" cy="232.6" r="4.5" fill="#F8766D"/>
<text transform="rotate(0.05 633.60 236.05)" x="633.60" y="236.05" font-size="9.7" fill="#000" stroke="#000">Deciduous</text>
<line x1="607.80" y1="246.29999999999998" x2="623.60" y2="246.29999999999998" stroke="#00BFC4" stroke-width="1.8"/>
<circle cx="615.7" cy="246.29999999999998" r="4.5" fill="#00BFC4"/>
<text transform="rotate(0.05 633.60 249.75)" x="633.60" y="249.75" font-size="9.7" fill="#000" stroke="#000">Evergreen</text>
<rect x="397.3" y="218.0" width="287.10" height="156.90" fill="none" stroke="#000" stroke-width="1.6"/>
<line x1="391.55" y1="251.09" x2="397.30" y2="251.09" stroke="#333" stroke-width="1.3"/>
<text transform="rotate(0.05 388.30 254.67)" x="388.30" y="254.67" text-anchor="end" font-size="9.8" fill="#4D4D4D" stroke="#4D4D4D">50</text>
<line x1="391.55" y1="294.29" x2="397.30" y2="294.29" stroke="#333" stroke-width="1.3"/>
<text transform="rotate(0.05 388.30 297.87)" x="388.30" y="297.87" text-anchor="end" font-size="9.8" fill="#4D4D4D" stroke="#4D4D4D">0</text>
<line x1="391.55" y1="337.49" x2="397.30" y2="337.49" stroke="#333" stroke-width="1.3"/>
<text transform="rotate(0.05 388.30 341.07)" x="388.30" y="341.07" text-anchor="end" font-size="9.8" fill="#4D4D4D" stroke="#4D4D4D">-50</text>
<line x1="424.80" y1="374.9" x2="424.80" y2="380.90" stroke="#333" stroke-width="1.3"/>
<text transform="rotate(0.05 424.80 389.20)" x="424.80" y="389.20" text-anchor="middle" fill="#4D4D4D" stroke="#4D4D4D" font-size="10.0"><tspan font-style="italic">g</tspan><tspan font-size="6.8" dy="1.8" dx="0.5">s</tspan></text>
<line x1="471.09" y1="374.9" x2="471.09" y2="380.90" stroke="#333" stroke-width="1.3"/>
<text transform="rotate(0.05 471.09 390.50)" x="471.09" y="390.50" text-anchor="middle" fill="#4D4D4D" stroke="#4D4D4D" font-size="10.0" font-style="italic">E</text>
<line x1="517.38" y1="374.9" x2="517.38" y2="380.90" stroke="#333" stroke-width="1.3"/>
<text transform="rotate(0.05 517.38 390.50)" x="517.38" y="390.50" text-anchor="middle" fill="#4D4D4D" stroke="#4D4D4D" font-size="10.0"><tspan font-style="italic">A</tspan><tspan font-size="6.8" dy="1.3" dx="1.1">net</tspan></text>
<line x1="563.67" y1="374.9" x2="563.67" y2="380.90" stroke="#333" stroke-width="1.3"/>
<text transform="rotate(0.05 563.67 390.50)" x="563.67" y="390.50" text-anchor="middle" fill="#4D4D4D" stroke="#4D4D4D" font-size="10.0"><tspan font-style="italic" letter-spacing="0.45">WUE</tspan><tspan font-size="6.8" dy="1.3" dx="1.1">i</tspan></text>
<line x1="609.96" y1="374.9" x2="609.96" y2="380.90" stroke="#333" stroke-width="1.3"/>
<text transform="rotate(0.05 609.96 390.50)" x="609.96" y="390.50" text-anchor="middle" fill="#4D4D4D" stroke="#4D4D4D" font-size="10.0"><tspan font-style="italic" letter-spacing="0.45">WUE</tspan><tspan font-size="6.8" dy="1.3" dx="1.1">t</tspan></text>
<line x1="656.25" y1="374.9" x2="656.25" y2="380.90" stroke="#333" stroke-width="1.3"/>
<text transform="rotate(0.05 656.25 390.50)" x="656.25" y="390.50" text-anchor="middle" fill="#4D4D4D" stroke="#4D4D4D" font-size="10.0"><tspan font-style="italic">Ψ</tspan><tspan font-size="6.8" dy="1.3" dx="1.1">leaf</tspan></text>
<text transform="translate(369.70,296.05) rotate(-90)" x="0" y="0" text-anchor="middle" font-size="9.7" fill="#000" stroke="#000">Effect size (%)</text>
<text transform="rotate(0.05 352.6 220.0)" x="352.6" y="220.0" font-size="15.5" font-weight="bold" fill="#000" stroke="#000">d</text>
<line x1="44.70" y1="522.65" x2="331.80" y2="522.65" stroke="#262626" stroke-width="1.7" stroke-dasharray="4.7 4.73"/>
<line x1="61.48" y1="511" x2="61.48" y2="527.9" stroke="#F8766D" stroke-width="1.6"/>
<circle cx="61.48" cy="520" r="3.9" fill="#F8766D"/>
<line x1="75.52" y1="499.5" x2="75.52" y2="519.5" stroke="#00BFC4" stroke-width="1.6"/>
<circle cx="75.52" cy="510" r="3.9" fill="#00BFC4"/>
<line x1="101.36" y1="461.9" x2="101.36" y2="507.2" stroke="#F8766D" stroke-width="1.6"/>
<circle cx="101.36" cy="486.6" r="3.9" fill="#F8766D"/>
<line x1="115.40" y1="445.7" x2="115.40" y2="546" stroke="#00BFC4" stroke-width="1.6"/>
<circle cx="115.40" cy="507.6" r="3.9" fill="#00BFC4"/>
<line x1="141.24" y1="527.4" x2="141.24" y2="537.4" stroke="#F8766D" stroke-width="1.6"/>
<circle cx="141.24" cy="532.8" r="3.9" fill="#F8766D"/>
<line x1="155.28" y1="515.3" x2="155.28" y2="527.4" stroke="#00BFC4" stroke-width="1.6"/>
<circle cx="155.28" cy="521.5" r="3.9" fill="#00BFC4"/>
<line x1="181.12" y1="528" x2="181.12" y2="543" stroke="#F8766D" stroke-width="1.6"/>
<circle cx="181.12" cy="536" r="3.9" fill="#F8766D"/>
<line x1="195.16" y1="517.8" x2="195.16" y2="536" stroke="#00BFC4" stroke-width="1.6"/>
<circle cx="195.16" cy="527.4" r="3.9" fill="#00BFC4"/>
<line x1="221.00" y1="539.8" x2="221.00" y2="559.8" stroke="#F8766D" stroke-width="1.6"/>
<circle cx="221.00" cy="550.4" r="3.9" fill="#F8766D"/>
<line x1="235.04" y1="489.4" x2="235.04" y2="560.5" stroke="#00BFC4" stroke-width="1.6"/>
<circle cx="235.04" cy="532.8" r="3.9" fill="#00BFC4"/>
<line x1="260.88" y1="496" x2="260.88" y2="511.4" stroke="#F8766D" stroke-width="1.6"/>
<circle cx="260.88" cy="504.4" r="3.9" fill="#F8766D"/>
<line x1="274.92" y1="494.8" x2="274.92" y2="522.1" stroke="#00BFC4" stroke-width="1.6"/>
<circle cx="274.92" cy="509.3" r="3.9" fill="#00BFC4"/>
<line x1="300.76" y1="534.2" x2="300.76" y2="545.5" stroke="#F8766D" stroke-width="1.6"/>
<circle cx="300.76" cy="540.2" r="3.9" fill="#F8766D"/>
<line x1="314.80" y1="524.9" x2="314.80" y2="546.2" stroke="#00BFC4" stroke-width="1.6"/>
<circle cx="314.80" cy="536.6" r="3.9" fill="#00BFC4"/>
<text transform="translate(61.48,573.05) rotate(-45)" x="0" y="3.39" text-anchor="middle" font-size="9.7" fill="#000" stroke="#000">233</text>
<text transform="translate(75.52,573.05) rotate(-45)" x="0" y="3.39" text-anchor="middle" font-size="9.7" fill="#000" stroke="#000">43</text>
<text transform="translate(101.36,573.05) rotate(-45)" x="0" y="3.39" text-anchor="middle" font-size="9.7" fill="#000" stroke="#000">74</text>
<text transform="translate(115.40,573.05) rotate(-45)" x="0" y="3.39" text-anchor="middle" font-size="9.7" fill="#000" stroke="#000">12</text>
<text transform="translate(141.24,573.05) rotate(-45)" x="0" y="3.39" text-anchor="middle" font-size="9.7" fill="#000" stroke="#000">514</text>
<text transform="translate(155.28,573.05) rotate(-45)" x="0" y="3.39" text-anchor="middle" font-size="9.7" fill="#000" stroke="#000">71</text>
<text transform="translate(181.12,573.05) rotate(-45)" x="0" y="3.39" text-anchor="middle" font-size="9.7" fill="#000" stroke="#000">218</text>
<text transform="translate(195.16,573.05) rotate(-45)" x="0" y="3.39" text-anchor="middle" font-size="9.7" fill="#000" stroke="#000">43</text>
<text transform="translate(221.00,573.05) rotate(-45)" x="0" y="3.39" text-anchor="middle" font-size="9.7" fill="#000" stroke="#000">86</text>
<text transform="translate(235.04,573.05) rotate(-45)" x="0" y="3.39" text-anchor="middle" font-size="9.7" fill="#000" stroke="#000">12</text>
<text transform="translate(260.88,573.05) rotate(-45)" x="0" y="3.39" text-anchor="middle" font-size="9.7" fill="#000" stroke="#000">58</text>
<text transform="translate(274.92,573.05) rotate(-45)" x="0" y="3.39" text-anchor="middle" font-size="9.7" fill="#000" stroke="#000">8</text>
<text transform="translate(300.76,573.05) rotate(-45)" x="0" y="3.39" text-anchor="middle" font-size="9.7" fill="#000" stroke="#000">35</text>
<text transform="translate(314.80,573.05) rotate(-45)" x="0" y="3.39" text-anchor="middle" font-size="9.7" fill="#000" stroke="#000">11</text>
<path d="M54.2 498.7L54.2 496.1L82.8 496.1L82.8 498.7" stroke="#1a1a1a" stroke-width="1.45" fill="none" stroke-linejoin="round"/>
<path d="M61.80 489.40L62.32 487.22A0.72 0.72 0 0 0 60.88 487.22L61.40 489.40ZM61.70 489.57L63.85 488.93A0.72 0.72 0 0 0 63.13 487.69L61.50 489.23ZM61.70 489.23L60.07 487.69A0.72 0.72 0 0 0 59.35 488.93L61.50 489.57ZM61.50 489.23L59.35 489.87A0.72 0.72 0 0 0 60.07 491.11L61.70 489.57ZM61.40 489.40L60.88 491.58A0.72 0.72 0 0 0 62.32 491.58L61.80 489.40ZM61.50 489.57L63.13 491.11A0.72 0.72 0 0 0 63.85 489.87L61.70 489.23Z" fill="#383838"/><path d="M68.70 489.40L69.22 487.22A0.72 0.72 0 0 0 67.78 487.22L68.30 489.40ZM68.60 489.57L70.75 488.93A0.72 0.72 0 0 0 70.03 487.69L68.40 489.23ZM68.60 489.23L66.97 487.69A0.72 0.72 0 0 0 66.25 488.93L68.40 489.57ZM68.40 489.23L66.25 489.87A0.72 0.72 0 0 0 66.97 491.11L68.60 489.57ZM68.30 489.40L67.78 491.58A0.72 0.72 0 0 0 69.22 491.58L68.70 489.40ZM68.40 489.57L70.03 491.11A0.72 0.72 0 0 0 70.75 489.87L68.60 489.23Z" fill="#383838"/><path d="M75.60 489.40L76.12 487.22A0.72 0.72 0 0 0 74.68 487.22L75.20 489.40ZM75.50 489.57L77.65 488.93A0.72 0.72 0 0 0 76.93 487.69L75.30 489.23ZM75.50 489.23L73.87 487.69A0.72 0.72 0 0 0 73.15 488.93L75.30 489.57ZM75.30 489.23L73.15 489.87A0.72 0.72 0 0 0 73.87 491.11L75.50 489.57ZM75.20 489.40L74.68 491.58A0.72 0.72 0 0 0 76.12 491.58L75.60 489.40ZM75.30 489.57L76.93 491.11A0.72 0.72 0 0 0 77.65 489.87L75.50 489.23Z" fill="#383838"/>
<path d="M134.1 513.9L134.1 511.2L162.5 511.2L162.5 513.9" stroke="#1a1a1a" stroke-width="1.45" fill="none" stroke-linejoin="round"/>
<path d="M141.70 505.00L142.22 502.82A0.72 0.72 0 0 0 140.78 502.82L141.30 505.00ZM141.60 505.17L143.75 504.53A0.72 0.72 0 0 0 143.03 503.29L141.40 504.83ZM141.60 504.83L139.97 503.29A0.72 0.72 0 0 0 139.25 504.53L141.40 505.17ZM141.40 504.83L139.25 505.47A0.72 0.72 0 0 0 139.97 506.71L141.60 505.17ZM141.30 505.00L140.78 507.18A0.72 0.72 0 0 0 142.22 507.18L141.70 505.00ZM141.40 505.17L143.03 506.71A0.72 0.72 0 0 0 143.75 505.47L141.60 504.83Z" fill="#383838"/><path d="M148.60 505.00L149.12 502.82A0.72 0.72 0 0 0 147.68 502.82L148.20 505.00ZM148.50 505.17L150.65 504.53A0.72 0.72 0 0 0 149.93 503.29L148.30 504.83ZM148.50 504.83L146.87 503.29A0.72 0.72 0 0 0 146.15 504.53L148.30 505.17ZM148.30 504.83L146.15 505.47A0.72 0.72 0 0 0 146.87 506.71L148.50 505.17ZM148.20 505.00L147.68 507.18A0.72 0.72 0 0 0 149.12 507.18L148.60 505.00ZM148.30 505.17L149.93 506.71A0.72 0.72 0 0 0 150.65 505.47L148.50 504.83Z" fill="#383838"/><path d="M155.50 505.00L156.02 502.82A0.72 0.72 0 0 0 154.58 502.82L155.10 505.00ZM155.40 505.17L157.55 504.53A0.72 0.72 0 0 0 156.83 503.29L155.20 504.83ZM155.40 504.83L153.77 503.29A0.72 0.72 0 0 0 153.05 504.53L155.20 505.17ZM155.20 504.83L153.05 505.47A0.72 0.72 0 0 0 153.77 506.71L155.40 505.17ZM155.10 505.00L154.58 507.18A0.72 0.72 0 0 0 156.02 507.18L155.50 505.00ZM155.20 505.17L156.83 506.71A0.72 0.72 0 0 0 157.55 505.47L155.40 504.83Z" fill="#383838"/>
<path d="M173.8 516.6L173.8 513.7L202.4 513.7L202.4 516.6" stroke="#1a1a1a" stroke-width="1.45" fill="none" stroke-linejoin="round"/>
<path d="M181.50 507.80L182.02 505.62A0.72 0.72 0 0 0 180.58 505.62L181.10 507.80ZM181.40 507.97L183.55 507.33A0.72 0.72 0 0 0 182.83 506.09L181.20 507.63ZM181.40 507.63L179.77 506.09A0.72 0.72 0 0 0 179.05 507.33L181.20 507.97ZM181.20 507.63L179.05 508.27A0.72 0.72 0 0 0 179.77 509.51L181.40 507.97ZM181.10 507.80L180.58 509.98A0.72 0.72 0 0 0 182.02 509.98L181.50 507.80ZM181.20 507.97L182.83 509.51A0.72 0.72 0 0 0 183.55 508.27L181.40 507.63Z" fill="#383838"/><path d="M188.40 507.80L188.92 505.62A0.72 0.72 0 0 0 187.48 505.62L188.00 507.80ZM188.30 507.97L190.45 507.33A0.72 0.72 0 0 0 189.73 506.09L188.10 507.63ZM188.30 507.63L186.67 506.09A0.72 0.72 0 0 0 185.95 507.33L188.10 507.97ZM188.10 507.63L185.95 508.27A0.72 0.72 0 0 0 186.67 509.51L188.30 507.97ZM188.00 507.80L187.48 509.98A0.72 0.72 0 0 0 188.92 509.98L188.40 507.80ZM188.10 507.97L189.73 509.51A0.72 0.72 0 0 0 190.45 508.27L188.30 507.63Z" fill="#383838"/><path d="M195.30 507.80L195.82 505.62A0.72 0.72 0 0 0 194.38 505.62L194.90 507.80ZM195.20 507.97L197.35 507.33A0.72 0.72 0 0 0 196.63 506.09L195.00 507.63ZM195.20 507.63L193.57 506.09A0.72 0.72 0 0 0 192.85 507.33L195.00 507.97ZM195.00 507.63L192.85 508.27A0.72 0.72 0 0 0 193.57 509.51L195.20 507.97ZM194.90 507.80L194.38 509.98A0.72 0.72 0 0 0 195.82 509.98L195.30 507.80ZM195.00 507.97L196.63 509.51A0.72 0.72 0 0 0 197.35 508.27L195.20 507.63Z" fill="#383838"/>
<line x1="274.60" y1="441.0" x2="290.40" y2="441.0" stroke="#F8766D" stroke-width="1.8"/>
<circle cx="282.5" cy="441.0" r="4.5" fill="#F8766D"/>
<text transform="rotate(0.05 299.80 444.45)" x="299.80" y="444.45" font-size="9.7" fill="#000" stroke="#000">C3</text>
<line x1="274.60" y1="454.7" x2="290.40" y2="454.7" stroke="#00BFC4" stroke-width="1.8"/>
<circle cx="282.5" cy="454.7" r="4.5" fill="#00BFC4"/>
<text transform="rotate(0.05 299.80 458.15)" x="299.80" y="458.15" font-size="9.7" fill="#000" stroke="#000">C4</text>
<rect x="44.7" y="426.4" width="287.10" height="157.00" fill="none" stroke="#000" stroke-width="1.6"/>
<line x1="38.95" y1="433.49" x2="44.70" y2="433.49" stroke="#333" stroke-width="1.3"/>
<text transform="rotate(0.05 35.70 437.07)" x="35.70" y="437.07" text-anchor="end" font-size="9.8" fill="#4D4D4D" stroke="#4D4D4D">100</text>
<line x1="38.95" y1="478.09" x2="44.70" y2="478.09" stroke="#333" stroke-width="1.3"/>
<text transform="rotate(0.05 35.70 481.67)" x="35.70" y="481.67" text-anchor="end" font-size="9.8" fill="#4D4D4D" stroke="#4D4D4D">50</text>
<line x1="38.95" y1="522.69" x2="44.70" y2="522.69" stroke="#333" stroke-width="1.3"/>
<text transform="rotate(0.05 35.70 526.27)" x="35.70" y="526.27" text-anchor="end" font-size="9.8" fill="#4D4D4D" stroke="#4D4D4D">0</text>
<line x1="38.95" y1="567.29" x2="44.70" y2="567.29" stroke="#333" stroke-width="1.3"/>
<text transform="rotate(0.05 35.70 570.87)" x="35.70" y="570.87" text-anchor="end" font-size="9.8" fill="#4D4D4D" stroke="#4D4D4D">-50</text>
<line x1="68.50" y1="583.4" x2="68.50" y2="589.40" stroke="#333" stroke-width="1.3"/>
<text transform="rotate(0.05 68.50 597.70)" x="68.50" y="597.70" text-anchor="middle" fill="#4D4D4D" stroke="#4D4D4D" font-size="10.0"><tspan font-style="italic">g</tspan><tspan font-size="6.8" dy="1.8" dx="0.5">s</tspan></text>
<line x1="108.38" y1="583.4" x2="108.38" y2="589.40" stroke="#333" stroke-width="1.3"/>
<text transform="rotate(0.05 108.38 599.00)" x="108.38" y="599.00" text-anchor="middle" fill="#4D4D4D" stroke="#4D4D4D" font-size="10.0" font-style="italic">E</text>
<line x1="148.26" y1="583.4" x2="148.26" y2="589.40" stroke="#333" stroke-width="1.3"/>
<text transform="rotate(0.05 148.26 599.00)" x="148.26" y="599.00" text-anchor="middle" fill="#4D4D4D" stroke="#4D4D4D" font-size="10.0"><tspan font-style="italic">A</tspan><tspan font-size="6.8" dy="1.3" dx="1.1">net</tspan></text>
<line x1="188.14" y1="583.4" x2="188.14" y2="589.40" stroke="#333" stroke-width="1.3"/>
<text transform="rotate(0.05 188.14 599.00)" x="188.14" y="599.00" text-anchor="middle" fill="#4D4D4D" stroke="#4D4D4D" font-size="10.0"><tspan font-style="italic" letter-spacing="0.45">WUE</tspan><tspan font-size="6.8" dy="1.3" dx="1.1">i</tspan></text>
<line x1="228.02" y1="583.4" x2="228.02" y2="589.40" stroke="#333" stroke-width="1.3"/>
<text transform="rotate(0.05 228.02 599.00)" x="228.02" y="599.00" text-anchor="middle" fill="#4D4D4D" stroke="#4D4D4D" font-size="10.0"><tspan font-style="italic" letter-spacing="0.45">WUE</tspan><tspan font-size="6.8" dy="1.3" dx="1.1">t</tspan></text>
<line x1="267.90" y1="583.4" x2="267.90" y2="589.40" stroke="#333" stroke-width="1.3"/>
<text transform="rotate(0.05 267.90 599.00)" x="267.90" y="599.00" text-anchor="middle" fill="#4D4D4D" stroke="#4D4D4D" font-size="10.0"><tspan font-style="italic">T</tspan><tspan font-size="6.8" dy="1.3" dx="1.1">leaf</tspan></text>
<line x1="307.78" y1="583.4" x2="307.78" y2="589.40" stroke="#333" stroke-width="1.3"/>
<text transform="rotate(0.05 307.78 599.00)" x="307.78" y="599.00" text-anchor="middle" fill="#4D4D4D" stroke="#4D4D4D" font-size="10.0"><tspan font-style="italic">Ψ</tspan><tspan font-size="6.8" dy="1.3" dx="1.1">leaf</tspan></text>
<text transform="translate(17.10,504.50) rotate(-90)" x="0" y="0" text-anchor="middle" font-size="9.7" fill="#000" stroke="#000">Effect size (%)</text>
<text transform="rotate(0.05 -0.4 428.2)" x="-0.4" y="428.2" font-size="15.5" font-weight="bold" fill="#000" stroke="#000">e</text>
<line x1="397.30" y1="519.14" x2="684.40" y2="519.14" stroke="#262626" stroke-width="1.7" stroke-dasharray="4.7 4.73"/>
<line x1="414.03" y1="499" x2="414.03" y2="521.7" stroke="#F8766D" stroke-width="1.6"/>
<circle cx="414.03" cy="511" r="3.9" fill="#F8766D"/>
<line x1="428.07" y1="505.5" x2="428.07" y2="533.4" stroke="#00BFC4" stroke-width="1.6"/>
<circle cx="428.07" cy="520.6" r="3.9" fill="#00BFC4"/>
<line x1="453.91" y1="449.1" x2="453.91" y2="506.8" stroke="#F8766D" stroke-width="1.6"/>
<circle cx="453.91" cy="481.1" r="3.9" fill="#F8766D"/>
<line x1="467.95" y1="448" x2="467.95" y2="518.9" stroke="#00BFC4" stroke-width="1.6"/>
<circle cx="467.95" cy="488.1" r="3.9" fill="#00BFC4"/>
<line x1="493.79" y1="516.3" x2="493.79" y2="528.9" stroke="#F8766D" stroke-width="1.6"/>
<circle cx="493.79" cy="522.5" r="3.9" fill="#F8766D"/>
<line x1="507.83" y1="528" x2="507.83" y2="540.2" stroke="#00BFC4" stroke-width="1.6"/>
<circle cx="507.83" cy="534.5" r="3.9" fill="#00BFC4"/>
<line x1="533.67" y1="522.1" x2="533.67" y2="540.2" stroke="#F8766D" stroke-width="1.6"/>
<circle cx="533.67" cy="531.7" r="3.9" fill="#F8766D"/>
<line x1="547.71" y1="518.5" x2="547.71" y2="543.8" stroke="#00BFC4" stroke-width="1.6"/>
<circle cx="547.71" cy="532.1" r="3.9" fill="#00BFC4"/>
<line x1="573.55" y1="539.2" x2="573.55" y2="562" stroke="#F8766D" stroke-width="1.6"/>
<circle cx="573.55" cy="551.5" r="3.9" fill="#F8766D"/>
<line x1="587.59" y1="514.2" x2="587.59" y2="554.1" stroke="#00BFC4" stroke-width="1.6"/>
<circle cx="587.59" cy="536.6" r="3.9" fill="#00BFC4"/>
<line x1="613.43" y1="491.2" x2="613.43" y2="507.6" stroke="#F8766D" stroke-width="1.6"/>
<circle cx="613.43" cy="499.7" r="3.9" fill="#F8766D"/>
<line x1="627.47" y1="489" x2="627.47" y2="515.7" stroke="#00BFC4" stroke-width="1.6"/>
<circle cx="627.47" cy="502.9" r="3.9" fill="#00BFC4"/>
<line x1="653.31" y1="526.8" x2="653.31" y2="543.4" stroke="#F8766D" stroke-width="1.6"/>
<circle cx="653.31" cy="535.3" r="3.9" fill="#F8766D"/>
<line x1="667.35" y1="530" x2="667.35" y2="546.6" stroke="#00BFC4" stroke-width="1.6"/>
<circle cx="667.35" cy="538.7" r="3.9" fill="#00BFC4"/>
<text transform="translate(414.03,572.45) rotate(-45)" x="0" y="3.39" text-anchor="middle" font-size="9.7" fill="#000" stroke="#000">180</text>
<text transform="translate(428.07,572.45) rotate(-45)" x="0" y="3.39" text-anchor="middle" font-size="9.7" fill="#000" stroke="#000">96</text>
<text transform="translate(453.91,572.45) rotate(-45)" x="0" y="3.39" text-anchor="middle" font-size="9.7" fill="#000" stroke="#000">42</text>
<text transform="translate(467.95,572.45) rotate(-45)" x="0" y="3.39" text-anchor="middle" font-size="9.7" fill="#000" stroke="#000">44</text>
<text transform="translate(493.79,572.45) rotate(-45)" x="0" y="3.39" text-anchor="middle" font-size="9.7" fill="#000" stroke="#000">233</text>
<text transform="translate(507.83,572.45) rotate(-45)" x="0" y="3.39" text-anchor="middle" font-size="9.7" fill="#000" stroke="#000">352</text>
<text transform="translate(533.67,572.45) rotate(-45)" x="0" y="3.39" text-anchor="middle" font-size="9.7" fill="#000" stroke="#000">172</text>
<text transform="translate(547.71,572.45) rotate(-45)" x="0" y="3.39" text-anchor="middle" font-size="9.7" fill="#000" stroke="#000">89</text>
<text transform="translate(573.55,572.45) rotate(-45)" x="0" y="3.39" text-anchor="middle" font-size="9.7" fill="#000" stroke="#000">54</text>
<text transform="translate(587.59,572.45) rotate(-45)" x="0" y="3.39" text-anchor="middle" font-size="9.7" fill="#000" stroke="#000">44</text>
<text transform="translate(613.43,572.45) rotate(-45)" x="0" y="3.39" text-anchor="middle" font-size="9.7" fill="#000" stroke="#000">58</text>
<text transform="translate(627.47,572.45) rotate(-45)" x="0" y="3.39" text-anchor="middle" font-size="9.7" fill="#000" stroke="#000">8</text>
<text transform="translate(653.31,572.45) rotate(-45)" x="0" y="3.39" text-anchor="middle" font-size="9.7" fill="#000" stroke="#000">16</text>
<text transform="translate(667.35,572.45) rotate(-45)" x="0" y="3.39" text-anchor="middle" font-size="9.7" fill="#000" stroke="#000">30</text>
<path d="M486.6 514.6L486.6 511.9L514.7 511.9L514.7 514.6" stroke="#1a1a1a" stroke-width="1.45" fill="none" stroke-linejoin="round"/>
<path d="M493.70 505.50L494.22 503.32A0.72 0.72 0 0 0 492.78 503.32L493.30 505.50ZM493.60 505.67L495.75 505.03A0.72 0.72 0 0 0 495.03 503.79L493.40 505.33ZM493.60 505.33L491.97 503.79A0.72 0.72 0 0 0 491.25 505.03L493.40 505.67ZM493.40 505.33L491.25 505.97A0.72 0.72 0 0 0 491.97 507.21L493.60 505.67ZM493.30 505.50L492.78 507.68A0.72 0.72 0 0 0 494.22 507.68L493.70 505.50ZM493.40 505.67L495.03 507.21A0.72 0.72 0 0 0 495.75 505.97L493.60 505.33Z" fill="#383838"/><path d="M500.60 505.50L501.12 503.32A0.72 0.72 0 0 0 499.68 503.32L500.20 505.50ZM500.50 505.67L502.65 505.03A0.72 0.72 0 0 0 501.93 503.79L500.30 505.33ZM500.50 505.33L498.87 503.79A0.72 0.72 0 0 0 498.15 505.03L500.30 505.67ZM500.30 505.33L498.15 505.97A0.72 0.72 0 0 0 498.87 507.21L500.50 505.67ZM500.20 505.50L499.68 507.68A0.72 0.72 0 0 0 501.12 507.68L500.60 505.50ZM500.30 505.67L501.93 507.21A0.72 0.72 0 0 0 502.65 505.97L500.50 505.33Z" fill="#383838"/><path d="M507.50 505.50L508.02 503.32A0.72 0.72 0 0 0 506.58 503.32L507.10 505.50ZM507.40 505.67L509.55 505.03A0.72 0.72 0 0 0 508.83 503.79L507.20 505.33ZM507.40 505.33L505.77 503.79A0.72 0.72 0 0 0 505.05 505.03L507.20 505.67ZM507.20 505.33L505.05 505.97A0.72 0.72 0 0 0 505.77 507.21L507.40 505.67ZM507.10 505.50L506.58 507.68A0.72 0.72 0 0 0 508.02 507.68L507.50 505.50ZM507.20 505.67L508.83 507.21A0.72 0.72 0 0 0 509.55 505.97L507.40 505.33Z" fill="#383838"/>
<line x1="607.80" y1="441.0" x2="623.60" y2="441.0" stroke="#F8766D" stroke-width="1.8"/>
<circle cx="615.7" cy="441.0" r="4.5" fill="#F8766D"/>
<text transform="rotate(0.05 633.20 444.45)" x="633.20" y="444.45" font-size="9.7" fill="#000" stroke="#000">Annual</text>
<line x1="607.80" y1="454.7" x2="623.60" y2="454.7" stroke="#00BFC4" stroke-width="1.8"/>
<circle cx="615.7" cy="454.7" r="4.5" fill="#00BFC4"/>
<text transform="rotate(0.05 633.20 458.15)" x="633.20" y="458.15" font-size="9.7" fill="#000" stroke="#000">Perennial</text>
<rect x="397.3" y="426.4" width="287.10" height="157.00" fill="none" stroke="#000" stroke-width="1.6"/>
<line x1="391.55" y1="471.69" x2="397.30" y2="471.69" stroke="#333" stroke-width="1.3"/>
<text transform="rotate(0.05 388.30 475.27)" x="388.30" y="475.27" text-anchor="end" font-size="9.8" fill="#4D4D4D" stroke="#4D4D4D">50</text>
<line x1="391.55" y1="519.14" x2="397.30" y2="519.14" stroke="#333" stroke-width="1.3"/>
<text transform="rotate(0.05 388.30 522.72)" x="388.30" y="522.72" text-anchor="end" font-size="9.8" fill="#4D4D4D" stroke="#4D4D4D">0</text>
<line x1="391.55" y1="566.59" x2="397.30" y2="566.59" stroke="#333" stroke-width="1.3"/>
<text transform="rotate(0.05 388.30 570.17)" x="388.30" y="570.17" text-anchor="end" font-size="9.8" fill="#4D4D4D" stroke="#4D4D4D">-50</text>
<line x1="421.05" y1="583.4" x2="421.05" y2="589.40" stroke="#333" stroke-width="1.3"/>
<text transform="rotate(0.05 421.05 597.70)" x="421.05" y="597.70" text-anchor="middle" fill="#4D4D4D" stroke="#4D4D4D" font-size="10.0"><tspan font-style="italic">g</tspan><tspan font-size="6.8" dy="1.8" dx="0.5">s</tspan></text>
<line x1="460.93" y1="583.4" x2="460.93" y2="589.40" stroke="#333" stroke-width="1.3"/>
<text transform="rotate(0.05 460.93 599.00)" x="460.93" y="599.00" text-anchor="middle" fill="#4D4D4D" stroke="#4D4D4D" font-size="10.0" font-style="italic">E</text>
<line x1="500.81" y1="583.4" x2="500.81" y2="589.40" stroke="#333" stroke-width="1.3"/>
<text transform="rotate(0.05 500.81 599.00)" x="500.81" y="599.00" text-anchor="middle" fill="#4D4D4D" stroke="#4D4D4D" font-size="10.0"><tspan font-style="italic">A</tspan><tspan font-size="6.8" dy="1.3" dx="1.1">net</tspan></text>
<line x1="540.69" y1="583.4" x2="540.69" y2="589.40" stroke="#333" stroke-width="1.3"/>
<text transform="rotate(0.05 540.69 599.00)" x="540.69" y="599.00" text-anchor="middle" fill="#4D4D4D" stroke="#4D4D4D" font-size="10.0"><tspan font-style="italic" letter-spacing="0.45">WUE</tspan><tspan font-size="6.8" dy="1.3" dx="1.1">i</tspan></text>
<line x1="580.57" y1="583.4" x2="580.57" y2="589.40" stroke="#333" stroke-width="1.3"/>
<text transform="rotate(0.05 580.57 599.00)" x="580.57" y="599.00" text-anchor="middle" fill="#4D4D4D" stroke="#4D4D4D" font-size="10.0"><tspan font-style="italic" letter-spacing="0.45">WUE</tspan><tspan font-size="6.8" dy="1.3" dx="1.1">t</tspan></text>
<line x1="620.45" y1="583.4" x2="620.45" y2="589.40" stroke="#333" stroke-width="1.3"/>
<text transform="rotate(0.05 620.45 599.00)" x="620.45" y="599.00" text-anchor="middle" fill="#4D4D4D" stroke="#4D4D4D" font-size="10.0"><tspan font-style="italic">T</tspan><tspan font-size="6.8" dy="1.3" dx="1.1">leaf</tspan></text>
<line x1="660.33" y1="583.4" x2="660.33" y2="589.40" stroke="#333" stroke-width="1.3"/>
<text transform="rotate(0.05 660.33 599.00)" x="660.33" y="599.00" text-anchor="middle" fill="#4D4D4D" stroke="#4D4D4D" font-size="10.0"><tspan font-style="italic">Ψ</tspan><tspan font-size="6.8" dy="1.3" dx="1.1">leaf</tspan></text>
<text transform="translate(369.70,504.50) rotate(-90)" x="0" y="0" text-anchor="middle" font-size="9.7" fill="#000" stroke="#000">Effect size (%)</text>
<text transform="rotate(0.05 350.4 428.2)" x="350.4" y="428.2" font-size="15.5" font-weight="bold" fill="#000" stroke="#000">f</text>
</svg>
</body></html>
